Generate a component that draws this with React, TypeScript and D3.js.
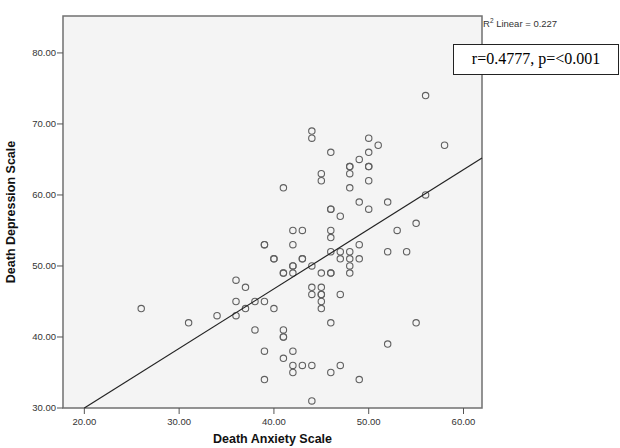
import * as d3 from 'd3';

// Death Anxiety Scale (x) vs Death Depression Scale (y), one entry per respondent
const anxiety = [
  56,
  44, 44, 50,
  51, 58,
  46, 50,
  49,
  48, 48, 50, 50,
  45, 48,
  45, 50,
  41, 48,
  56,
  49, 52,
  46, 46, 50,
  47,
  55,
  42, 43, 46, 53,
  46,
  39, 39, 42, 49,
  46, 47, 48, 52, 54,
  40, 40, 43, 43, 47, 48, 49,
  42, 42, 44, 48,
  41, 41, 42, 45, 46, 46, 48,
  36,
  37, 44, 45,
  44, 45, 45, 47,
  36, 38, 39, 45,
  26, 37, 40, 45,
  34, 36,
  31, 46, 55,
  38, 41,
  41, 41,
  52,
  39, 42,
  41,
  42, 43, 44, 47,
  42, 46,
  39, 49,
  44,
];
const depression = [
  74,
  69, 68, 68,
  67, 67,
  66, 66,
  65,
  64, 64, 64, 64,
  63, 63,
  62, 62,
  61, 61,
  60,
  59, 59,
  58, 58, 58,
  57,
  56,
  55, 55, 55, 55,
  54,
  53, 53, 53, 53,
  52, 52, 52, 52, 52,
  51, 51, 51, 51, 51, 51, 51,
  50, 50, 50, 50,
  49, 49, 49, 49, 49, 49, 49,
  48,
  47, 47, 47,
  46, 46, 46, 46,
  45, 45, 45, 45,
  44, 44, 44, 44,
  43, 43,
  42, 42, 42,
  41, 41,
  40, 40,
  39,
  38, 38,
  37,
  36, 36, 36, 36,
  35, 35,
  34, 34,
  31,
];

const xTicks = [20, 30, 40, 50, 60];
const yTicks = [30, 40, 50, 60, 70, 80];

// linear fit line as drawn in the reference
const fitIntercept = 13.22;
const fitSlope = 0.839;
const fitLabel = '0.227';
const statLabel = 'r=0.4777, p=<0.001';

const width = 620;
const height = 448;
const frame = { left: 63, right: 482, top: 16, bottom: 408 };
const sans = "'Liberation Sans', Arial, sans-serif";

export default function App() {
  const x = d3.scaleLinear().domain([17.75, 61.95]).range([frame.left, frame.right]);
  const y = d3.scaleLinear().domain([30, 85.2]).range([frame.bottom, frame.top]);
  const fmt = d3.format('.2f');

  const x0 = 20;
  const x1 = x.domain()[1];
  const fitPath = d3.line<number>()
    .x((d) => x(d))
    .y((d) => y(fitIntercept + fitSlope * d))([x0, x1]);

  return (
    <svg
      width={width}
      height={height}
      style={{ position: 'absolute', left: 0, top: 0, background: '#fff' }}
    >
      <rect
        x={frame.left}
        y={frame.top}
        width={frame.right - frame.left}
        height={frame.bottom - frame.top}
        fill="#f4f4f4"
        stroke="#707070"
        strokeWidth={1.5}
      />

      {yTicks.map((t) => (
        <g key={'y' + t} transform={`translate(0,${y(t)})`}>
          <line x1={frame.left - 6} x2={frame.left} stroke="#555" strokeWidth={1} />
          <text
            x={frame.left - 7}
            dy="0.35em"
            textAnchor="end"
            fontFamily={sans}
            fontSize={9.5}
            fill="#333"
          >
            {fmt(t)}
          </text>
        </g>
      ))}

      {xTicks.map((t) => (
        <g key={'x' + t} transform={`translate(${x(t)},0)`}>
          <line y1={frame.bottom} y2={frame.bottom + 6} stroke="#555" strokeWidth={1} />
          <text
            y={frame.bottom + 17}
            textAnchor="middle"
            fontFamily={sans}
            fontSize={9.5}
            fill="#333"
          >
            {fmt(t)}
          </text>
        </g>
      ))}

      {anxiety.map((a, i) => (
        <circle
          key={i}
          cx={x(a)}
          cy={y(depression[i])}
          r={3.2}
          fill="none"
          stroke="#606060"
          strokeWidth={1.1}
        />
      ))}

      <path d={fitPath ?? ''} fill="none" stroke="#222" strokeWidth={1.2} />

      <text
        x={(frame.left + frame.right) / 2}
        y={443}
        textAnchor="middle"
        fontFamily={sans}
        fontSize={12.5}
        fontWeight="bold"
        fill="#111"
      >
        Death Anxiety Scale
      </text>
      <text
        transform={`translate(15,${(frame.top + frame.bottom) / 2}) rotate(-90)`}
        textAnchor="middle"
        fontFamily={sans}
        fontSize={12.5}
        fontWeight="bold"
        fill="#111"
      >
        Death Depression Scale
      </text>

      <text x={frame.right + 1} y={27} fontFamily={sans} fontSize={9.5} fill="#333">
        R<tspan dy={-4} fontSize={6.5}>2</tspan>
        <tspan dy={4}> Linear = {fitLabel}</tspan>
      </text>

      <rect x={453.5} y={44.5} width={165} height={30} fill="#fff" stroke="#222" strokeWidth={1} />
      <text
        x={536}
        y={64}
        textAnchor="middle"
        fontFamily="'Liberation Serif', 'Times New Roman', serif"
        fontSize={16}
        fill="#000"
      >
        {statLabel}
      </text>
    </svg>
  );
}
